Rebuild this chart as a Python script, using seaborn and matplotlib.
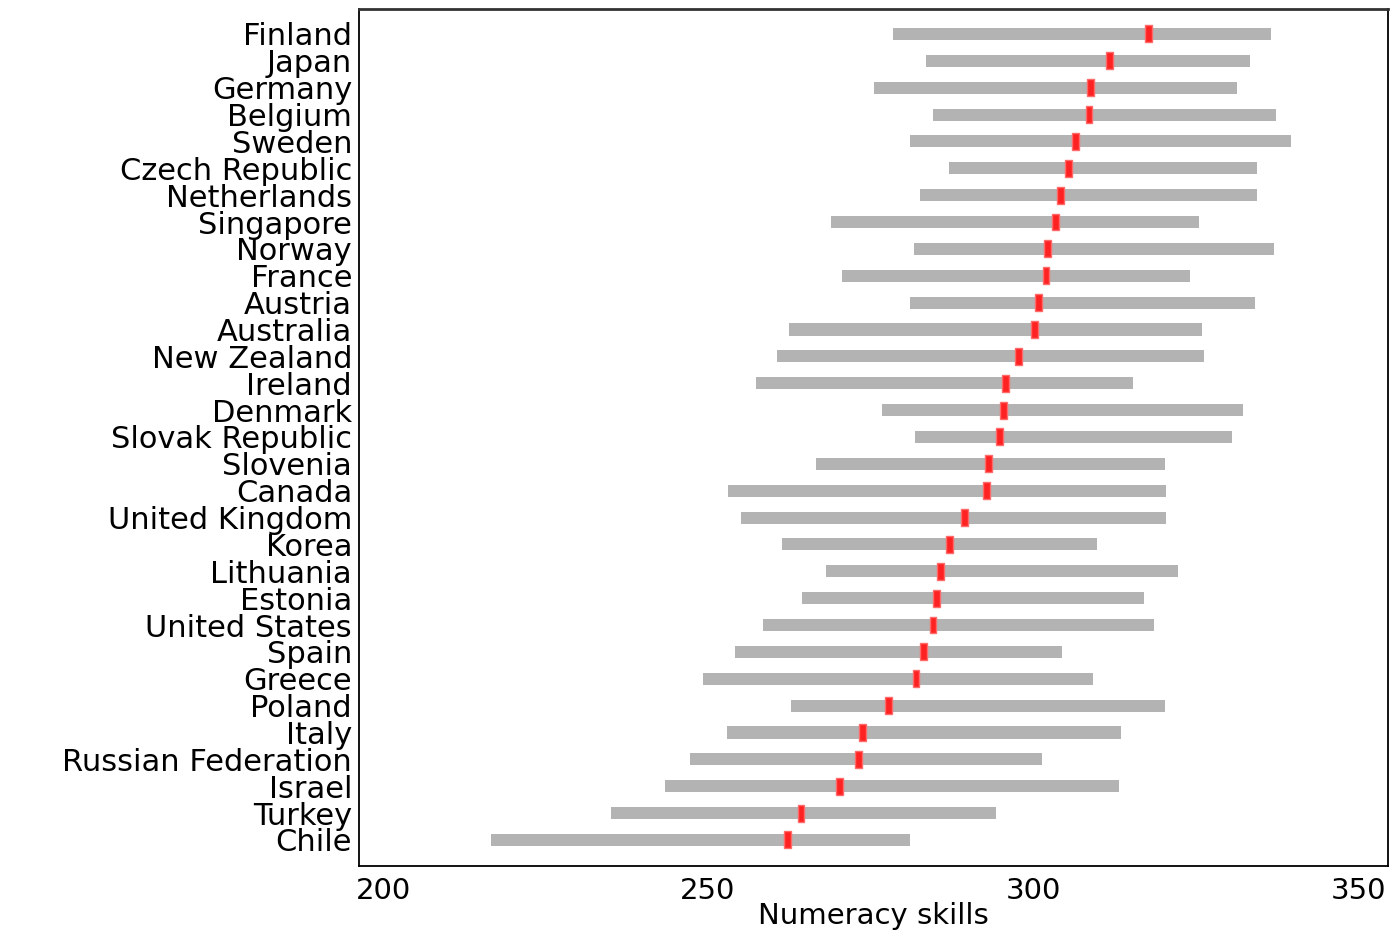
import numpy as np
import matplotlib
matplotlib.use("Agg")
import matplotlib.pyplot as plt
import seaborn as sns

countries = ["Finland", "Japan", "Germany", "Belgium", "Sweden", "Czech Republic",
             "Netherlands", "Singapore", "Norway", "France", "Austria", "Australia",
             "New Zealand", "Ireland", "Denmark", "Slovak Republic", "Slovenia",
             "Canada", "United Kingdom", "Korea", "Lithuania", "Estonia",
             "United States", "Spain", "Greece", "Poland", "Italy",
             "Russian Federation", "Israel", "Turkey", "Chile"]

# range of numeracy scores (low / high end of grey bar) and the mean (red mark)
low = [278.5, 283.5, 275.5, 284.6, 281.1, 287.1, 282.6, 268.9, 281.7, 270.6, 281.1,
       262.5, 260.6, 257.4, 276.8, 281.8, 266.6, 253.1, 255.1, 261.4, 268.2, 264.5,
       258.5, 254.2, 249.2, 262.8, 252.9, 247.2, 243.4, 235.1, 216.6]
high = [336.6, 333.4, 331.4, 337.4, 339.7, 334.5, 334.5, 325.5, 337.1, 324.2, 334.2,
        326.0, 326.3, 315.4, 332.3, 330.6, 320.3, 320.5, 320.5, 309.8, 322.3, 317.1,
        318.6, 304.5, 309.2, 320.3, 313.5, 301.4, 313.2, 294.3, 281.1]
mean = [317.7, 311.7, 308.8, 308.6, 306.5, 305.5, 304.2, 303.4, 302.2, 302.0, 300.9,
        300.2, 297.8, 295.8, 295.4, 294.8, 293.1, 292.8, 289.5, 287.1, 285.8, 285.2,
        284.6, 283.1, 282.0, 277.8, 273.7, 273.2, 270.2, 264.3, 262.2]

xticks = [200, 250, 300, 350]

sns.set_style("white")
plt.rcParams['font.family'] = ['DejaVu Sans']
plt.rcParams['text.color'] = 'black'
plt.rcParams['xtick.color'] = 'black'
plt.rcParams['ytick.color'] = 'black'
plt.rcParams['axes.labelcolor'] = 'black'

fig = plt.figure(figsize=(13.98, 9.34), dpi=100)
ax = fig.add_axes([0.2568, 0.0728, 0.736, 0.9176])

pos = np.arange(len(countries))
low = np.array(low)
high = np.array(high)
mean = np.array(mean)

# grey ranges
ax.barh(pos, high - low, left=low, height=0.45, color='#b3b3b3', edgecolor='none')
# red mean marks
ax.barh(pos, 1.05, left=mean - 0.525, height=0.63, color='#ff2222',
        edgecolor='#ff6a6a', linewidth=1)

ax.set_xlim(196.3, 354.6)
ax.set_ylim(30.97, -0.93)
ax.set_yticks(pos)
ax.set_yticklabels(countries, fontsize=22)
ax.set_xticks(xticks)
ax.set_xticklabels([str(t) for t in xticks], fontsize=21)
ax.tick_params(axis='y', length=0, pad=5)
ax.tick_params(axis='x', length=0, pad=8)
ax.set_xlabel("Numeracy skills", fontsize=21, labelpad=-2)

for s in ax.spines.values():
    s.set_visible(True)
    s.set_color('black')
    s.set_linewidth(1.3)
ax.spines['top'].set_color('#333333')
ax.spines['top'].set_linewidth(2)

fig.savefig("out.png", dpi=100)
